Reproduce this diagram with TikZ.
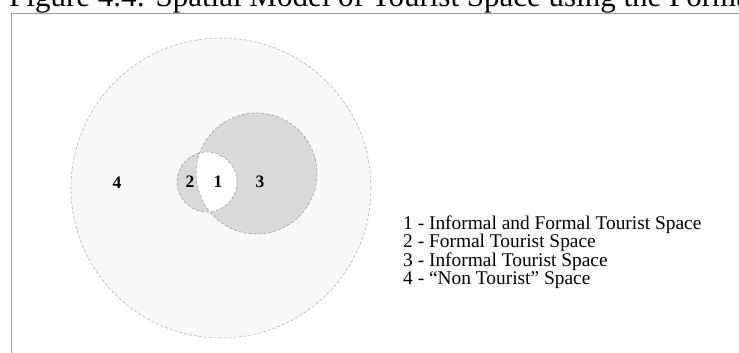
\documentclass[tikz,border=0pt]{standalone}
\usepackage{fontspec}
\setmainfont{Liberation Serif}
\definecolor{outerfill}{HTML}{F8F8F8}
\definecolor{spacefill}{HTML}{D9D9D9}
\definecolor{rimcol}{HTML}{A8A8A8}
\definecolor{outerrim}{HTML}{BBBBBB}
\definecolor{framecol}{HTML}{9A9A9A}
\begin{document}
\begin{tikzpicture}[x=1pt,y=-1pt,
  rim/.style={draw=rimcol, line width=0.7pt, dash pattern=on 3pt off 2pt},
  outerrimstyle/.style={draw=outerrim, line width=0.7pt, dash pattern=on 3pt off 2pt},
  framestyle/.style={draw=framecol, line width=1pt},
  region/.style={circle, inner sep=0pt, draw=none},
  numlabel/.style={font=\fontsize{17.5}{17.5}\selectfont\bfseries, inner sep=0pt},
  legendtext/.style={font=\fontsize{19.4}{19.4}\selectfont, inner sep=0pt, anchor=base west}]
\useasboundingbox (0,0) rectangle (739,353);
\clip (0,0) rectangle (739,353);
\fill[white] (0,0) rectangle (739,353);
% title (cut off at top, as in the reference)
\node[anchor=base west, inner sep=0pt, font=\fontsize{31}{31}\selectfont] (title) at (9,6.5) {Figure 4.4: Spatial Model of Tourist Space using the Formal and Informal};
% frame
\coordinate (fA) at (11,360);
\coordinate (fB) at (11,13.5);
\coordinate (fC) at (745,13.5);
\draw[framestyle] (fA) -- (fB) -- (fC);
% regions
\node[region, minimum size=300pt] (c4) at (221,188) {};
\node[region, minimum size=121pt] (c3) at (256.5,173.5) {};
\node[region, minimum size=60pt] (c2) at (207,182) {};
\fill[outerfill] (c4.center) circle[radius=150];
\draw[outerrimstyle] (c4.center) circle[radius=150];
\fill[spacefill] (c3.center) circle[radius=60.5];
\fill[spacefill] (c2.center) circle[radius=30];
\begin{scope}
  \clip (c3.center) circle[radius=60.5];
  \fill[white] (c2.center) circle[radius=30];
\end{scope}
\draw[rim] (c3.center) circle[radius=60.5];
\draw[rim] (c2.center) circle[radius=30];
% labels
\node[numlabel] (l1) at (218,182) {1};
\node[numlabel] (l2) at (190,182) {2};
\node[numlabel] (l3) at (260,182) {3};
\node[numlabel] (l4) at (117,183) {4};
% legend
\node[legendtext] (k1) at (403,229) {1 - Informal and Formal Tourist Space};
\node[legendtext] (k2) at (403,247.5) {2 - Formal Tourist Space};
\node[legendtext] (k3) at (403,266) {3 - Informal Tourist Space};
\node[legendtext] (k4) at (403,284.5) {4 - ``Non Tourist'' Space};
\end{tikzpicture}
\end{document}
